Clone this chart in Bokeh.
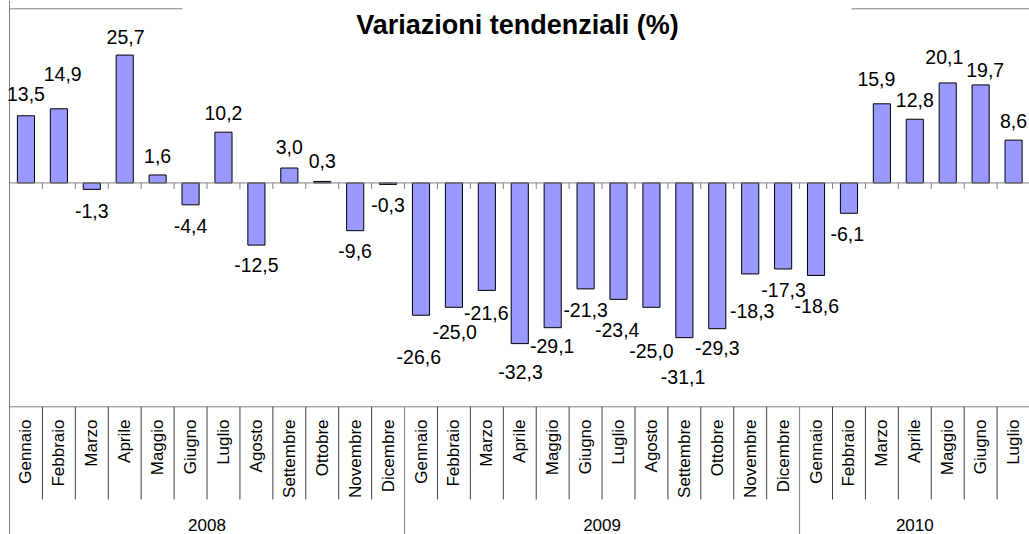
import math
from bokeh.plotting import figure
from bokeh.models import Range1d, ColumnDataSource, Label
from bokeh.core.properties import value
from bokeh.embed import file_html
from bokeh.resources import INLINE

# ---------------- data ----------------
title_text = "Variazioni tendenziali (%)"
years = ["2008", "2009", "2010"]
months_per_year = [12, 12, 7]
months = [
    "Gennaio", "Febbraio", "Marzo", "Aprile", "Maggio", "Giugno", "Luglio",
    "Agosto", "Settembre", "Ottobre", "Novembre", "Dicembre",
    "Gennaio", "Febbraio", "Marzo", "Aprile", "Maggio", "Giugno", "Luglio",
    "Agosto", "Settembre", "Ottobre", "Novembre", "Dicembre",
    "Gennaio", "Febbraio", "Marzo", "Aprile", "Maggio", "Giugno", "Luglio",
]
values = [
    13.5, 14.9, -1.3, 25.7, 1.6, -4.4, 10.2, -12.5, 3.0, 0.3, -9.6, -0.3,
    -26.6, -25.0, -21.6, -32.3, -29.1, -21.3, -23.4, -25.0, -31.1, -29.3, -18.3, -17.3,
    -18.6, -6.1, 15.9, 12.8, 20.1, 19.7, 8.6,
]

# ---------------- layout (pixels, not data) ----------------
label_gap_px = [22, 35, 21.5, 18.3, 19, 21.2, 19.3, 20, 20.8, 20.6, 20.1, 21,
                41.4, 24.7, 22.2, 28.7, 18.1, 21.3, 30.7, 43.8, 39, 19, 37, 21.4,
                31, 20.7, 25, 19, 26, 15, 19]
label_dx_px = [0, 3.8, 0, 0.8, 0, 0, 0, 0, 0, 0, 0, 0,
               -2.2, 0.8, -0.5, 0.8, -0.5, 0, -1.3, 0, -1.3, 0, 2, 0.4,
               0.8, -1.7, -5.5, 0, -3.4, 4.6, 0]

W, H = 1029, 534
PPX = 32.92      # px per category
PPU = 4.975      # px per percentage point
Y_MAX, Y_MIN = 35, -45
LEFT_PX = 9.0    # pixel of plot-area left edge
TOP_PX = 8.3     # pixel of plot-area top edge
N = len(values)


def py(page_y):
    return Y_MAX - (page_y - TOP_PX) / PPU


X0 = -LEFT_PX / PPX
Y1 = py(0)
Y0 = py(H)

FONT = value("Liberation Sans")
GRAY = "#808080"

p = figure(width=W, height=H, x_range=Range1d(X0, X0 + W / PPX),
           y_range=Range1d(Y0, Y1), output_backend="svg",
           toolbar_location=None, min_border=0,
           x_axis_location=None, y_axis_location=None)
p.min_border_left = p.min_border_right = p.min_border_top = p.min_border_bottom = 0
p.grid.visible = False
p.outline_line_color = None
p.background_fill_color = "white"
p.border_fill_color = "white"

xs = [i + 0.5 for i in range(N)]

# bars
p.vbar(x=xs, top=values, bottom=0, width=0.52, fill_color="#9999FF",
       line_color="#000000", line_width=1)

# zero axis line and ticks
p.segment(x0=[0], y0=[0], x1=[N + 1], y1=[0], line_color=GRAY, line_width=1)
p.segment(x0=list(range(1, N)), y0=[0] * (N - 1), x1=list(range(1, N)),
          y1=[-6 / PPU] * (N - 1), line_color=GRAY, line_width=1)

# frame lines
title_gap_left = (182 - LEFT_PX) / PPX
title_gap_right = (851 - LEFT_PX) / PPX
p.segment(x0=[0, title_gap_right], y0=[Y_MAX, Y_MAX], x1=[title_gap_left, N + 1],
          y1=[Y_MAX, Y_MAX], line_color=GRAY, line_width=1)
p.segment(x0=[0], y0=[Y1], x1=[0], y1=[Y0], line_color=GRAY, line_width=1)
p.segment(x0=[0], y0=[Y_MIN], x1=[N + 1], y1=[Y_MIN], line_color=GRAY, line_width=1)

# category table separators
year_bounds = []
acc = 0
for m in months_per_year:
    acc += m
    year_bounds.append(acc)
month_bounds = [b for b in range(1, N) if b not in year_bounds]
p.segment(x0=month_bounds, y0=[Y_MIN] * len(month_bounds), x1=month_bounds,
          y1=[py(499)] * len(month_bounds), line_color="#404040", line_width=1)
p.segment(x0=year_bounds, y0=[Y_MIN] * len(year_bounds), x1=year_bounds,
          y1=[Y0] * len(year_bounds), line_color=GRAY, line_width=1)

# data labels
lab = ColumnDataSource(dict(
    x=xs, y=values,
    text=[("%.1f" % v).replace(".", ",") for v in values],
    dx=label_dx_px,
    dy=[(-g if v >= 0 else g) for v, g in zip(values, label_gap_px)],
))
p.text(x="x", y="y", text="text", x_offset="dx", y_offset="dy", source=lab,
       text_align="center", text_baseline="middle", text_font=FONT,
       text_font_size="19.5px", text_color="#000000")

# month labels
p.text(x=xs, y=[py(419)] * N, text=months, angle=math.pi / 2,
       text_align="right", text_baseline="middle", text_font=FONT,
       text_font_size="17px", text_color="#000000")

# year labels
starts = [0] + year_bounds[:-1]
year_x = [(s + e) / 2 for s, e in zip(starts, year_bounds)]
p.text(x=year_x, y=[py(524)] * len(years), text=years, text_align="center",
       text_baseline="middle", text_font=FONT, text_font_size="17px",
       text_color="#000000")

# title
p.add_layout(Label(x=(517 - LEFT_PX) / PPX, y=py(24), text=title_text,
                   text_align="center", text_baseline="alphabetic",
                   text_font="Liberation Sans", text_font_style="bold",
                   text_font_size="27px", text_color="#000000"))

open("out.html", "w").write(file_html(p, INLINE))
